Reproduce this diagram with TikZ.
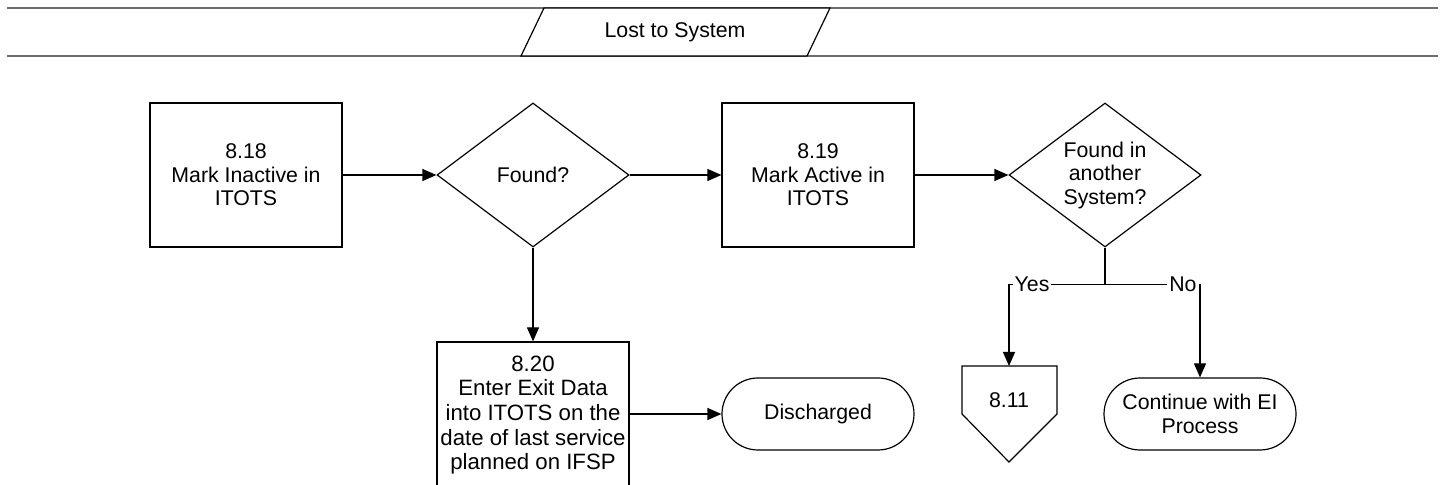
\documentclass[tikz,border=0pt]{standalone}
\usepackage{fontspec}
\setmainfont{Liberation Sans}
\usetikzlibrary{positioning,arrows,arrows.meta,shapes.geometric}

\begin{document}
\begin{tikzpicture}[x=0.5pt,y=-0.5pt,
		every node/.style={font=\fontsize{10.65}{11.75}\selectfont,align=center,inner sep=0pt},
		stepbox/.style={draw,line width=0.6pt,minimum width=96pt,minimum height=72pt},
		query/.style={draw,diamond,aspect=1.33,line width=0.6pt,minimum width=96pt,minimum height=72pt},
		endpoint/.style={draw,rectangle,rounded corners=18pt,line width=0.6pt,minimum width=96pt,minimum height=36pt},
		flow/.style={line width=0.6pt,-{Triangle[length=7pt,width=6pt]}},
		tag/.style={fill=white,inner sep=1pt}]
		\clip (0,0) rectangle (1445,485);
		% lane header
		\draw[gray!85!black,line width=1.1pt] (7,8) -- (1438,8);
		\draw[gray!85!black,line width=1.1pt] (7,56) -- (1438,56);
		\draw[fill=white,line width=0.6pt] (544,8) -- (830,8) -- (807,56) -- (521,56) -- cycle;
		\node (lane) at (675,32) {Lost to System};
		% steps and decisions
		\node[stepbox] (a818) at (246,175) {8.18\\Mark Inactive in\\ITOTS};
		\node[query] (found) at (533,175) {Found?};
		\node[stepbox] (a819) at (818,175) {8.19\\Mark Active in\\ITOTS};
		\node[query] (found2) at (1105,175) {Found in\\another\\System?};
		\node[stepbox,minimum height=73pt,font=\fontsize{11.1}{12.35}\selectfont] (a820) at (533,415) {8.20\\Enter Exit Data\\into ITOTS on the\\date of last service\\planned on IFSP};
		\node[endpoint] (dis) at (818,414) {Discharged};
		\node[endpoint] (cont) at (1200,414) {Continue with EI\\Process};
		% off-page reference
		\draw[line width=0.6pt] (962,366) -- (1057,366) -- (1057,414) -- (1009,462) -- (962,414) -- cycle;
		\node (c811) at (1009,400) {8.11};
		\coordinate (c811top) at (1009,366);
		% connectors
		\draw[flow] (a818) -- (found);
		\draw[flow] (found) -- (a819);
		\draw[flow] (a819) -- (found2);
		\draw[flow] (found) -- (a820);
		\draw[flow] (a820.east |- dis) -- (dis);
		\draw[line width=0.6pt] (found2.south) -- ++(0,37) coordinate (split);
		\draw[flow] (split) -| node[tag,pos=0.38] {Yes} (c811top);
		\draw[flow] (split) -| node[tag,pos=0.41] {No} (cont);
\end{tikzpicture}
\end{document}
